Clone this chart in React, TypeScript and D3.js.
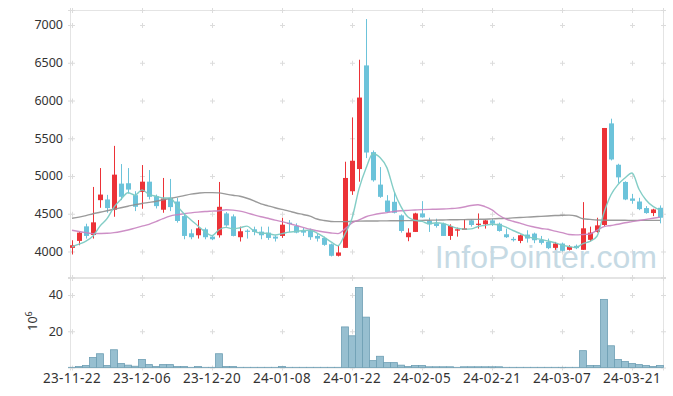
import React from 'react';
import * as d3 from 'd3';

const dates = [
  '2023-11-22','2023-11-23','2023-11-24','2023-11-27','2023-11-28','2023-11-29','2023-11-30',
  '2023-12-01','2023-12-04','2023-12-05','2023-12-06','2023-12-07','2023-12-08','2023-12-11',
  '2023-12-12','2023-12-13','2023-12-14','2023-12-15','2023-12-18','2023-12-19','2023-12-20',
  '2023-12-21','2023-12-22','2023-12-26','2023-12-27','2023-12-28','2024-01-02','2024-01-03',
  '2024-01-04','2024-01-05','2024-01-08','2024-01-09','2024-01-10','2024-01-11','2024-01-12',
  '2024-01-15','2024-01-16','2024-01-17','2024-01-18','2024-01-19','2024-01-22','2024-01-23',
  '2024-01-24','2024-01-25','2024-01-26','2024-01-29','2024-01-30','2024-01-31','2024-02-01',
  '2024-02-02','2024-02-05','2024-02-06','2024-02-07','2024-02-08','2024-02-13','2024-02-14',
  '2024-02-15','2024-02-16','2024-02-19','2024-02-20','2024-02-21','2024-02-22','2024-02-23',
  '2024-02-26','2024-02-27','2024-02-28','2024-02-29','2024-03-04','2024-03-05','2024-03-06',
  '2024-03-07','2024-03-08','2024-03-11','2024-03-12','2024-03-13','2024-03-14','2024-03-15',
  '2024-03-18','2024-03-19','2024-03-20','2024-03-21','2024-03-22','2024-03-25','2024-03-26',
  '2024-03-27',
];

const opens = [
  4048,4140,4333,4219,4680,4689,4553,4899,4904,4746,4789,4925,4732,4553,4711,4662,4469,4241,4215,4294,
  4197,4215,4504,4465,4189,4276,4294,4263,4250,4197,4206,4382,4338,4272,4272,4206,4180,4096,3943,4048,
  4798,5092,6465,5316,4886,4675,4658,4478,4189,4259,4504,4408,4373,4368,4206,4276,4285,4412,4355,4360,
  4412,4368,4228,4167,4140,4224,4237,4154,4127,4048,4105,4022,4075,4022,4154,4259,4351,5697,5149,4921,
  4702,4662,4575,4509,4579,
];
const highs = [
  4149,4259,4368,4855,5105,4750,5399,5158,5105,4798,5145,5079,4754,4974,4961,4711,4504,4294,4417,4316,
  4215,4921,4522,4491,4329,4294,4329,4329,4329,4215,4447,4417,4373,4311,4303,4232,4197,4105,4075,5189,
  5776,6540,7079,5338,5118,4746,4785,4491,4307,4513,4667,4447,4434,4382,4360,4316,4425,4425,4504,4417,
  4434,4382,4303,4193,4224,4281,4250,4206,4171,4127,4118,4083,4092,4654,4329,4447,5636,5759,5162,4930,
  4763,4711,4601,4566,4610,
];
const lows = [
  3961,4083,4171,4171,4579,4513,4460,4680,4768,4535,4566,4689,4570,4513,4535,4382,4162,4162,4171,4162,
  4150,4184,4329,4200,4132,4171,4215,4162,4154,4132,4180,4259,4241,4206,4154,4132,4075,3934,3934,4048,
  4750,4925,5237,4925,4711,4513,4504,4250,4136,4259,4447,4259,4316,4206,4154,4197,4285,4329,4303,4303,
  4338,4263,4180,4132,4110,4118,4110,4092,4031,4022,4000,4013,4031,4022,4132,4250,4338,5206,4908,4680,
  4632,4548,4500,4469,4373,
];
const closes = [
  4083,4250,4206,4386,4754,4575,5018,4724,4820,4592,4925,4724,4601,4702,4588,4404,4206,4189,4307,4189,
  4162,4592,4346,4206,4268,4268,4259,4215,4180,4171,4355,4364,4250,4250,4189,4171,4088,3943,3987,4974,
  5202,6039,5311,4943,4724,4522,4513,4272,4250,4504,4452,4360,4338,4206,4338,4294,4307,4351,4368,4412,
  4368,4272,4189,4149,4215,4171,4149,4114,4044,4105,4009,4061,4044,4307,4250,4346,5636,5219,4982,4689,
  4671,4561,4509,4557,4447,
];
// closes of the four sessions before the first shown day (for the 5-day average)
const prevCloses = [4080, 4000, 4050, 4100];

// volume, millions of shares
const volumes = [
  0.1,0.5,1.1,5.5,7.6,1.1,9.8,2.2,1.3,0.7,4.4,1.6,0.5,1.6,1.6,0.5,0.5,0.1,0.5,0.1,
  0.1,7.6,0.5,0.5,0.1,0.1,0.1,0.1,0.1,0.1,0.5,0.1,0.1,0.1,0.1,0.1,0.1,0.1,0.1,22.4,
  17.5,44.2,27.8,3.8,6.2,2.7,2.7,1.3,0.5,1.1,1.1,0.4,0.4,0.4,0.4,0.1,0.4,0.4,0.4,0.4,
  0.4,0.4,0.1,0.1,0.1,0.1,0.1,0.1,0.1,0.1,0.1,0.1,0.1,9.3,1.1,1.1,37.6,12.0,4.4,3.3,
  2.2,1.6,1.1,0.5,1.1,
];

// 20-day average
const ma20 = [
  4281,4265,4250,4237,4238,4241,4250,4265,4285,4310,4335,4360,4395,4435,4469,4487,4500,4512,4522,4530,
  4535,4540,4553,4548,4535,4512,4485,4460,4440,4415,4395,4370,4345,4320,4294,4275,4258,4245,4237,4300,
  4380,4417,4460,4485,4504,4515,4530,4540,4545,4550,4555,4558,4560,4563,4568,4575,4590,4610,4620,4595,
  4550,4480,4430,4400,4375,4345,4325,4305,4294,4270,4250,4225,4220,4225,4232,4280,4330,4345,4360,4380,
  4395,4410,4425,4440,4455,
];
// 60-day average
const ma60 = [
  4440,4455,4475,4500,4520,4540,4560,4580,4600,4620,4636,4650,4665,4685,4702,4720,4740,4760,4772,4780,
  4780,4776,4760,4745,4732,4705,4670,4630,4605,4580,4557,4535,4510,4490,4469,4430,4410,4398,4395,4395,
  4398,4402,4404,4404,4405,4406,4407,4408,4409,4410,4412,4414,4416,4418,4420,4421,4422,4424,4426,4428,
  4432,4436,4439,4445,4450,4455,4460,4465,4470,4476,4480,4482,4470,4434,4425,4417,4415,4414,4413,4413,
  4412,4412,4412,4412,4412,
];

const priceTicks = [4000, 4500, 5000, 5500, 6000, 6500, 7000];
const volumeTicks = [20, 40];
const labelEvery = 10;

const UP = '#ec3237';
const DOWN = '#6cc3da';

export default function App() {
  const W = 673, H = 396;
  const left = 70, right = 663;
  const pTop = 10, pBottom = 277, vTop = 278, vBottom = 367.5;

  const idx = d3.range(dates.length);
  const x = d3.scaleLinear().domain([0, dates.length - 1]).range([72, 660]);
  const yP = d3.scaleLinear().domain([3662, 7199]).range([pBottom, pTop]);
  const yV = d3.scaleLinear().domain([0, 49.4]).range([vBottom, vTop]);

  const allCloses = [...prevCloses, ...closes];
  const ma5 = idx.map(i => d3.mean(allCloses.slice(i, i + 5)) as number);

  const line = (arr: number[]) =>
    d3.line<number>().x((_, i) => x(i)).y(v => yP(v)).curve(d3.curveMonotoneX)(arr) || '';

  const xTickIdx = idx.filter(i => i % labelEvery === 0);
  const bw = 5;
  const vw = 7;

  const plus = (cx: number, cy: number, k: string) => (
    <g key={k} stroke="#dcdcdc" strokeWidth={1}>
      <line x1={cx - 2.5} x2={cx + 2.5} y1={cy} y2={cy} />
      <line x1={cx} x2={cx} y1={cy - 2.5} y2={cy + 2.5} />
    </g>
  );

  const gridXs = [left, ...xTickIdx.map(i => x(i)), right];
  const pGridYs = [pTop, ...priceTicks.map(t => yP(t)), pBottom];
  const vGridYs = [vTop, ...volumeTicks.map(t => yV(t)), vBottom];

  return (
    <svg width={W} height={H} style={{ position: 'absolute', left: 0, top: 0, background: '#fff' }}
      fontFamily="'Noto Sans', sans-serif">
      {/* frames */}
      <rect x={left + 0.5} y={pTop + 0.5} width={right - left} height={pBottom - pTop} fill="none" stroke="#e4e4e4" />
      <rect x={left + 0.5} y={vTop + 0.5} width={right - left} height={vBottom - vTop} fill="none" stroke="#e4e4e4" />

      {/* grid pluses */}
      {gridXs.map((gx, a) => pGridYs.map((gy, b) => plus(gx + 0.5, gy + 0.5, `p${a}-${b}`)))}
      {gridXs.map((gx, a) => vGridYs.map((gy, b) => plus(gx + 0.5, gy + 0.5, `v${a}-${b}`)))}

      {/* watermark */}
      <text x={657} y={268} textAnchor="end" fontSize={32} fill="#c6dae4"
        fontFamily="'Liberation Sans', Arial, sans-serif">InfoPointer.com</text>

      {/* candles */}
      {idx.map(i => {
        const up = closes[i] >= opens[i];
        const c = up ? UP : DOWN;
        const top = yP(Math.max(opens[i], closes[i]));
        const bot = yP(Math.min(opens[i], closes[i]));
        const cx = Math.round(x(i));
        return (
          <g key={`c${i}`}>
            <line x1={cx + 0.5} x2={cx + 0.5} y1={yP(highs[i])} y2={yP(lows[i])} stroke={c} strokeWidth={1} />
            <rect x={cx + 0.5 - bw / 2} y={top} width={bw} height={Math.max(1.2, bot - top)} fill={c} />
          </g>
        );
      })}

      {/* moving averages */}
      <path d={line(ma60)} fill="none" stroke="#8f8f8f" strokeWidth={1.4} opacity={0.9} />
      <path d={line(ma20)} fill="none" stroke="#c883c0" strokeWidth={1.4} opacity={0.9} />
      <path d={line(ma5)} fill="none" stroke="#7ccac3" strokeWidth={1.4} opacity={0.95} />

      {/* volume bars */}
      {idx.map(i => {
        const cx = x(i);
        return (
          <rect key={`v${i}`} x={cx - vw / 2} y={yV(volumes[i])} width={vw}
            height={Math.max(0, yV(0) - yV(volumes[i]))}
            fill="#97bfd0" stroke="#6e9fb4" strokeWidth={0.8} />
        );
      })}

      {/* y labels */}
      {priceTicks.map(t => (
        <text key={`pt${t}`} x={63} y={yP(t)} dy="0.35em" textAnchor="end" fontSize={12.5} fill="#333">{t}</text>
      ))}
      {volumeTicks.map(t => (
        <text key={`vt${t}`} x={63} y={yV(t)} dy="0.35em" textAnchor="end" fontSize={12.5} fill="#333">{t}</text>
      ))}
      <text transform="translate(37,321) rotate(-90)" textAnchor="middle" fontSize={12.5} fill="#333">
        10<tspan dy={-5} fontSize={9}>6</tspan>
      </text>

      {/* x labels */}
      {xTickIdx.map(i => (
        <text key={`xt${i}`} x={x(i)} y={383} textAnchor="middle" fontSize={13.5} letterSpacing={0.4} fill="#333">
          {dates[i].slice(2)}
        </text>
      ))}
    </svg>
  );
}
